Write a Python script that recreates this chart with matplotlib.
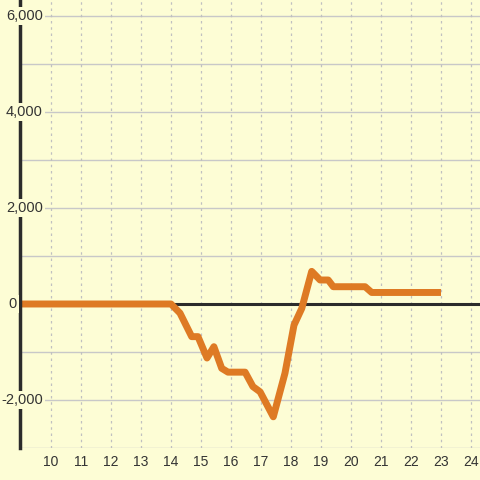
import matplotlib
matplotlib.use("Agg")
import matplotlib.pyplot as plt

# values
x = [9.0, 14.0, 14.3, 14.69, 14.9, 15.2, 15.43, 15.69, 15.9, 16.47, 16.73, 16.97,
     17.41, 17.8, 18.1, 18.36, 18.69, 18.97, 19.24, 19.41, 20.47, 20.69, 23.0]
y = [0, 0, -190, -680, -680, -1125, -890, -1340, -1420, -1420, -1720, -1830,
     -2350, -1440, -440, -90, 680, 500, 500, 360, 360, 240, 240]

xticks = list(range(10, 25))
yticks = [-3000, -2000, -1000, 0, 1000, 2000, 3000, 4000, 5000, 6000]
ylabels = {-2000: '-2,000', 0: '0', 2000: '2,000', 4000: '4,000', 6000: '6,000'}

bg = '#fdfdd5'
txt = '#333333'
plt.rcParams['font.family'] = ['Liberation Sans', 'DejaVu Sans']

fig = plt.figure(figsize=(4.8, 4.8), dpi=100, facecolor=bg)
ax = fig.add_axes([20/480, 32/480, 460/480, 448/480], facecolor=bg)

ax.set_xlim(8.967, 24.3)
ax.set_ylim(-3000, 6333)

for v in yticks:
    ax.axhline(v, color='#c8c8c8', lw=1, zorder=1)
for v in xticks:
    ax.axvline(v, color='#c0c0c0', lw=0.9, ls=(0, (2, 3)), zorder=1)
ax.axhline(0, color='#2b2b2b', lw=2.2, zorder=2)

ax.plot(x, y, color='#de7a24', lw=5, solid_joinstyle='round', solid_capstyle='butt', zorder=3)

for s in ['top', 'right', 'bottom']:
    ax.spines[s].set_visible(False)
ax.spines['left'].set_color('#2b2b2b')
ax.spines['left'].set_linewidth(2.5)
ax.spines['left'].set_zorder(4)

ax.set_xticks(xticks)
ax.set_xticklabels([str(t) for t in xticks], fontsize=10, color=txt)
ax.tick_params(axis='x', length=0, pad=5)
ax.set_yticks([])

tr = ax.get_yaxis_transform()
for v, lab in ylabels.items():
    xpos = 23/460 if v != 0 else -3/460
    ax.text(xpos, v, lab, transform=tr, ha='right', va='center', fontsize=10.5, color=txt,
            zorder=6, clip_on=False,
            bbox=dict(boxstyle='square,pad=0.15', fc=bg, ec='none'))

fig.savefig('out.png', dpi=100, facecolor=bg)
